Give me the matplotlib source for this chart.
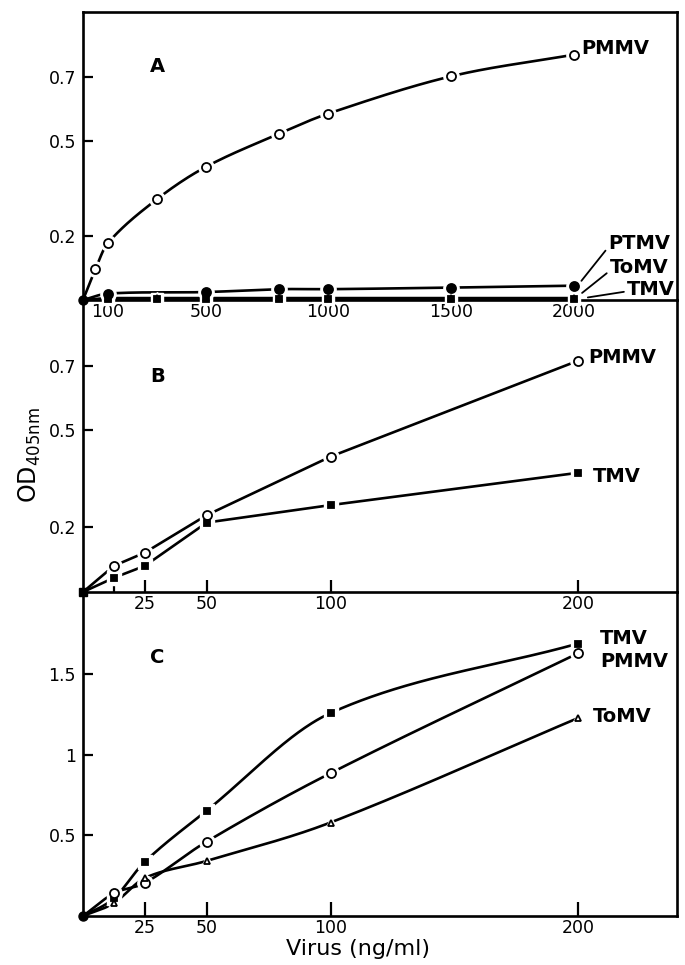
import numpy as np
import matplotlib
matplotlib.use("Agg")
import matplotlib.pyplot as plt

plt.rcParams['font.family'] = ['DejaVu Sans']

# ---------------- data ----------------
# Panel A
xA_pmmv = [0, 50, 100, 300, 500, 800, 1000, 1500, 2000]
yA_pmmv = [0, 0.096, 0.178, 0.316, 0.418, 0.523, 0.586, 0.703, 0.771]
xA_ptmv = [0, 100, 500, 800, 1000, 1500, 2000]
yA_ptmv = [0, 0.020, 0.025, 0.034, 0.034, 0.039, 0.045]
xA_low = [0, 100, 300, 500, 800, 1000, 1500, 2000]
yA_tomv = [0, 0.006, 0.006, 0.006, 0.006, 0.006, 0.006, 0.006]
yA_tmv = [0, 0.004, 0.004, 0.004, 0.004, 0.004, 0.004, 0.004]
xA_ticks = [100, 500, 1000, 1500, 2000]
xA_ticklabels = ['100', '500', '1000', '1500', '2000']
yA_ticks = [0.2, 0.5, 0.7]
yA_ticklabels = ['0.2', '0.5', '0.7']

# Panel B
xB = [0, 12.5, 25, 50, 100, 200]
yB_pmmv = [0, 0.081, 0.122, 0.238, 0.419, 0.716]
yB_tmv = [0, 0.044, 0.081, 0.215, 0.269, 0.369]
xB_ticks = [12.5, 25, 50, 100, 200]
xB_ticklabels = ['', '25', '50', '100', '200']
yB_ticks = [0.2, 0.5, 0.7]
yB_ticklabels = ['0.2', '0.5', '0.7']

# Panel C
xC = [0, 12.5, 25, 50, 100, 200]
yC_tmv = [0, 0.11, 0.337, 0.654, 1.259, 1.69]
yC_pmmv = [0, 0.141, 0.205, 0.462, 0.886, 1.63]
yC_tomv = [0, 0.08, 0.236, 0.342, 0.58, 1.228]
xC_ticks = [25, 50, 100, 200]
xC_ticklabels = ['25', '50', '100', '200']
yC_ticks = [0.5, 1, 1.5]
yC_ticklabels = ['0.5', '1', '1.5']


def smooth_curve(x, y, n=300):
    """Cubic Hermite curve through the points with centred-difference slopes."""
    x = np.asarray(x, float)
    y = np.asarray(y, float)
    h = np.diff(x)
    m = np.empty_like(y)
    m[1:-1] = (y[2:] - y[:-2]) / (x[2:] - x[:-2])
    m[0] = (y[1] - y[0]) / h[0]
    m[-1] = (y[-1] - y[-2]) / h[-1]
    xs = np.linspace(x[0], x[-1], n)
    idx = np.clip(np.searchsorted(x, xs) - 1, 0, len(h) - 1)
    t = (xs - x[idx]) / h[idx]
    h00 = 2 * t**3 - 3 * t**2 + 1
    h10 = t**3 - 2 * t**2 + t
    h01 = -2 * t**3 + 3 * t**2
    h11 = t**3 - t**2
    ys = h00 * y[idx] + h10 * h[idx] * m[idx] + h01 * y[idx + 1] + h11 * h[idx] * m[idx + 1]
    return xs, ys


LW = 1.9


def series(ax, x, y, marker, filled, ms, smooth=False):
    if smooth:
        xs, ys = smooth_curve(x, y)
    else:
        xs, ys = x, y
    ax.plot(xs, ys, color='black', lw=LW, solid_capstyle='butt', solid_joinstyle='round',
            zorder=2, clip_on=False)
    # white halo to break the line around markers
    ax.plot(x[1:], y[1:], linestyle='none', marker=marker, ms=ms + 4.5,
            mfc='white', mec='white', zorder=3, clip_on=False)
    ax.plot(x[1:], y[1:], linestyle='none', marker=marker, ms=ms,
            mfc='black' if filled else 'white', mec='black', mew=1.3,
            zorder=4, clip_on=False)


def frame(ax, xlim, ylim, xt, xtl, yt, ytl, show_top, xtick_len):
    ax.set_facecolor('none')
    ax.set_xlim(*xlim)
    ax.set_ylim(*ylim)
    for s in ['left', 'right', 'bottom', 'top']:
        ax.spines[s].set_linewidth(1.9)
    ax.spines['top'].set_visible(show_top)
    ax.set_xticks(xt)
    ax.set_xticklabels(xtl)
    ax.set_yticks(yt)
    ax.set_yticklabels(ytl)
    ax.tick_params(axis='y', direction='in', length=7, width=1.6, labelsize=12.5, pad=5)
    ax.tick_params(axis='x', direction='in', length=xtick_len, width=1.6, labelsize=12.5, pad=2)


W, H = 685, 965
fig = plt.figure(figsize=(W / 100, H / 100), dpi=100)
L, R = 83, 677


def add_ax(top, bottom):
    return fig.add_axes([L / W, 1 - bottom / H, (R - L) / W, (bottom - top) / H])


axA = add_ax(12, 300)
axB = add_ax(300, 592)
axC = add_ax(592, 916)

lab = dict(fontsize=14, fontweight='bold', va='center', ha='left')

# ---- Panel A ----
frame(axA, (0, 2420), (0, 0.905), xA_ticks, xA_ticklabels, yA_ticks, yA_ticklabels, True, 0)
series(axA, xA_pmmv, yA_pmmv, 'o', False, 6.5, smooth=True)
series(axA, xA_ptmv, yA_ptmv, 'o', True, 6.5, smooth=True)
series(axA, xA_low, yA_tomv, '^', False, 4.5)
series(axA, xA_low, yA_tmv, 's', True, 4.5)
axA.plot([0], [0], marker='o', ms=6.5, color='black', zorder=5, clip_on=False)
axA.text(0.113, 0.79, 'A', transform=axA.transAxes, fontsize=14, fontweight='bold')
axA.text(2030, yA_pmmv[-1] + 0.02, 'PMMV', **lab)
axA.annotate('PTMV', xy=(xA_ptmv[-1] + 20, yA_ptmv[-1] + 0.005), xytext=(2140, 0.178),
             fontsize=14, fontweight='bold', va='center', ha='left',
             arrowprops=dict(arrowstyle='-', lw=1.3, color='black', shrinkA=0, shrinkB=3,
                             relpos=(0, 0.3)))
axA.annotate('ToMV', xy=(xA_low[-1] + 20, yA_tomv[-1] + 0.008), xytext=(2145, 0.103),
             fontsize=14, fontweight='bold', va='center', ha='left',
             arrowprops=dict(arrowstyle='-', lw=1.3, color='black', shrinkA=0, shrinkB=3,
                             relpos=(0, 0.3)))
axA.annotate('TMV', xy=(xA_low[-1] + 40, yA_tmv[-1] + 0.002), xytext=(2215, 0.033),
             fontsize=14, fontweight='bold', va='center', ha='left',
             arrowprops=dict(arrowstyle='-', lw=1.3, color='black', shrinkA=0, shrinkB=3,
                             relpos=(0, 0.4)))

# ---- Panel B ----
frame(axB, (0, 240), (0, 0.904), xB_ticks, xB_ticklabels, yB_ticks, yB_ticklabels, False, 9)
series(axB, xB, yB_pmmv, 'o', False, 6.5)
series(axB, xB, yB_tmv, 's', True, 5.0)
axB.plot([0], [0], marker='s', ms=5.5, color='black', zorder=5, clip_on=False)
axB.text(0.113, 0.72, 'B', transform=axB.transAxes, fontsize=14, fontweight='bold')
axB.text(204, yB_pmmv[-1] + 0.01, 'PMMV', **lab)
axB.text(206, yB_tmv[-1] - 0.01, 'TMV', **lab)

# ---- Panel C ----
frame(axC, (0, 240), (0, 2.01), xC_ticks, xC_ticklabels, yC_ticks, yC_ticklabels, False, 10)
series(axC, xC, yC_tmv, 's', True, 5.0, smooth=True)
series(axC, xC, yC_pmmv, 'o', False, 6.5, smooth=True)
series(axC, xC, yC_tomv, '^', False, 4.5, smooth=True)
axC.plot([0], [0], marker='o', ms=6.5, color='black', zorder=5, clip_on=False)
axC.text(0.113, 0.78, 'C', transform=axC.transAxes, fontsize=14, fontweight='bold')
axC.text(209, 1.72, 'TMV', **lab)
axC.text(209, 1.58, 'PMMV', **lab)
axC.text(206, 1.24, 'ToMV', **lab)

fig.text(358 / W, 1 - 949 / H, 'Virus (ng/ml)', fontsize=16, ha='center', va='center')

fig.text(30 / W, 1 - 455 / H, r'OD$_{\mathregular{405nm}}$', rotation=90,
         fontsize=17, ha='center', va='center')

fig.savefig('out.png', dpi=100)
